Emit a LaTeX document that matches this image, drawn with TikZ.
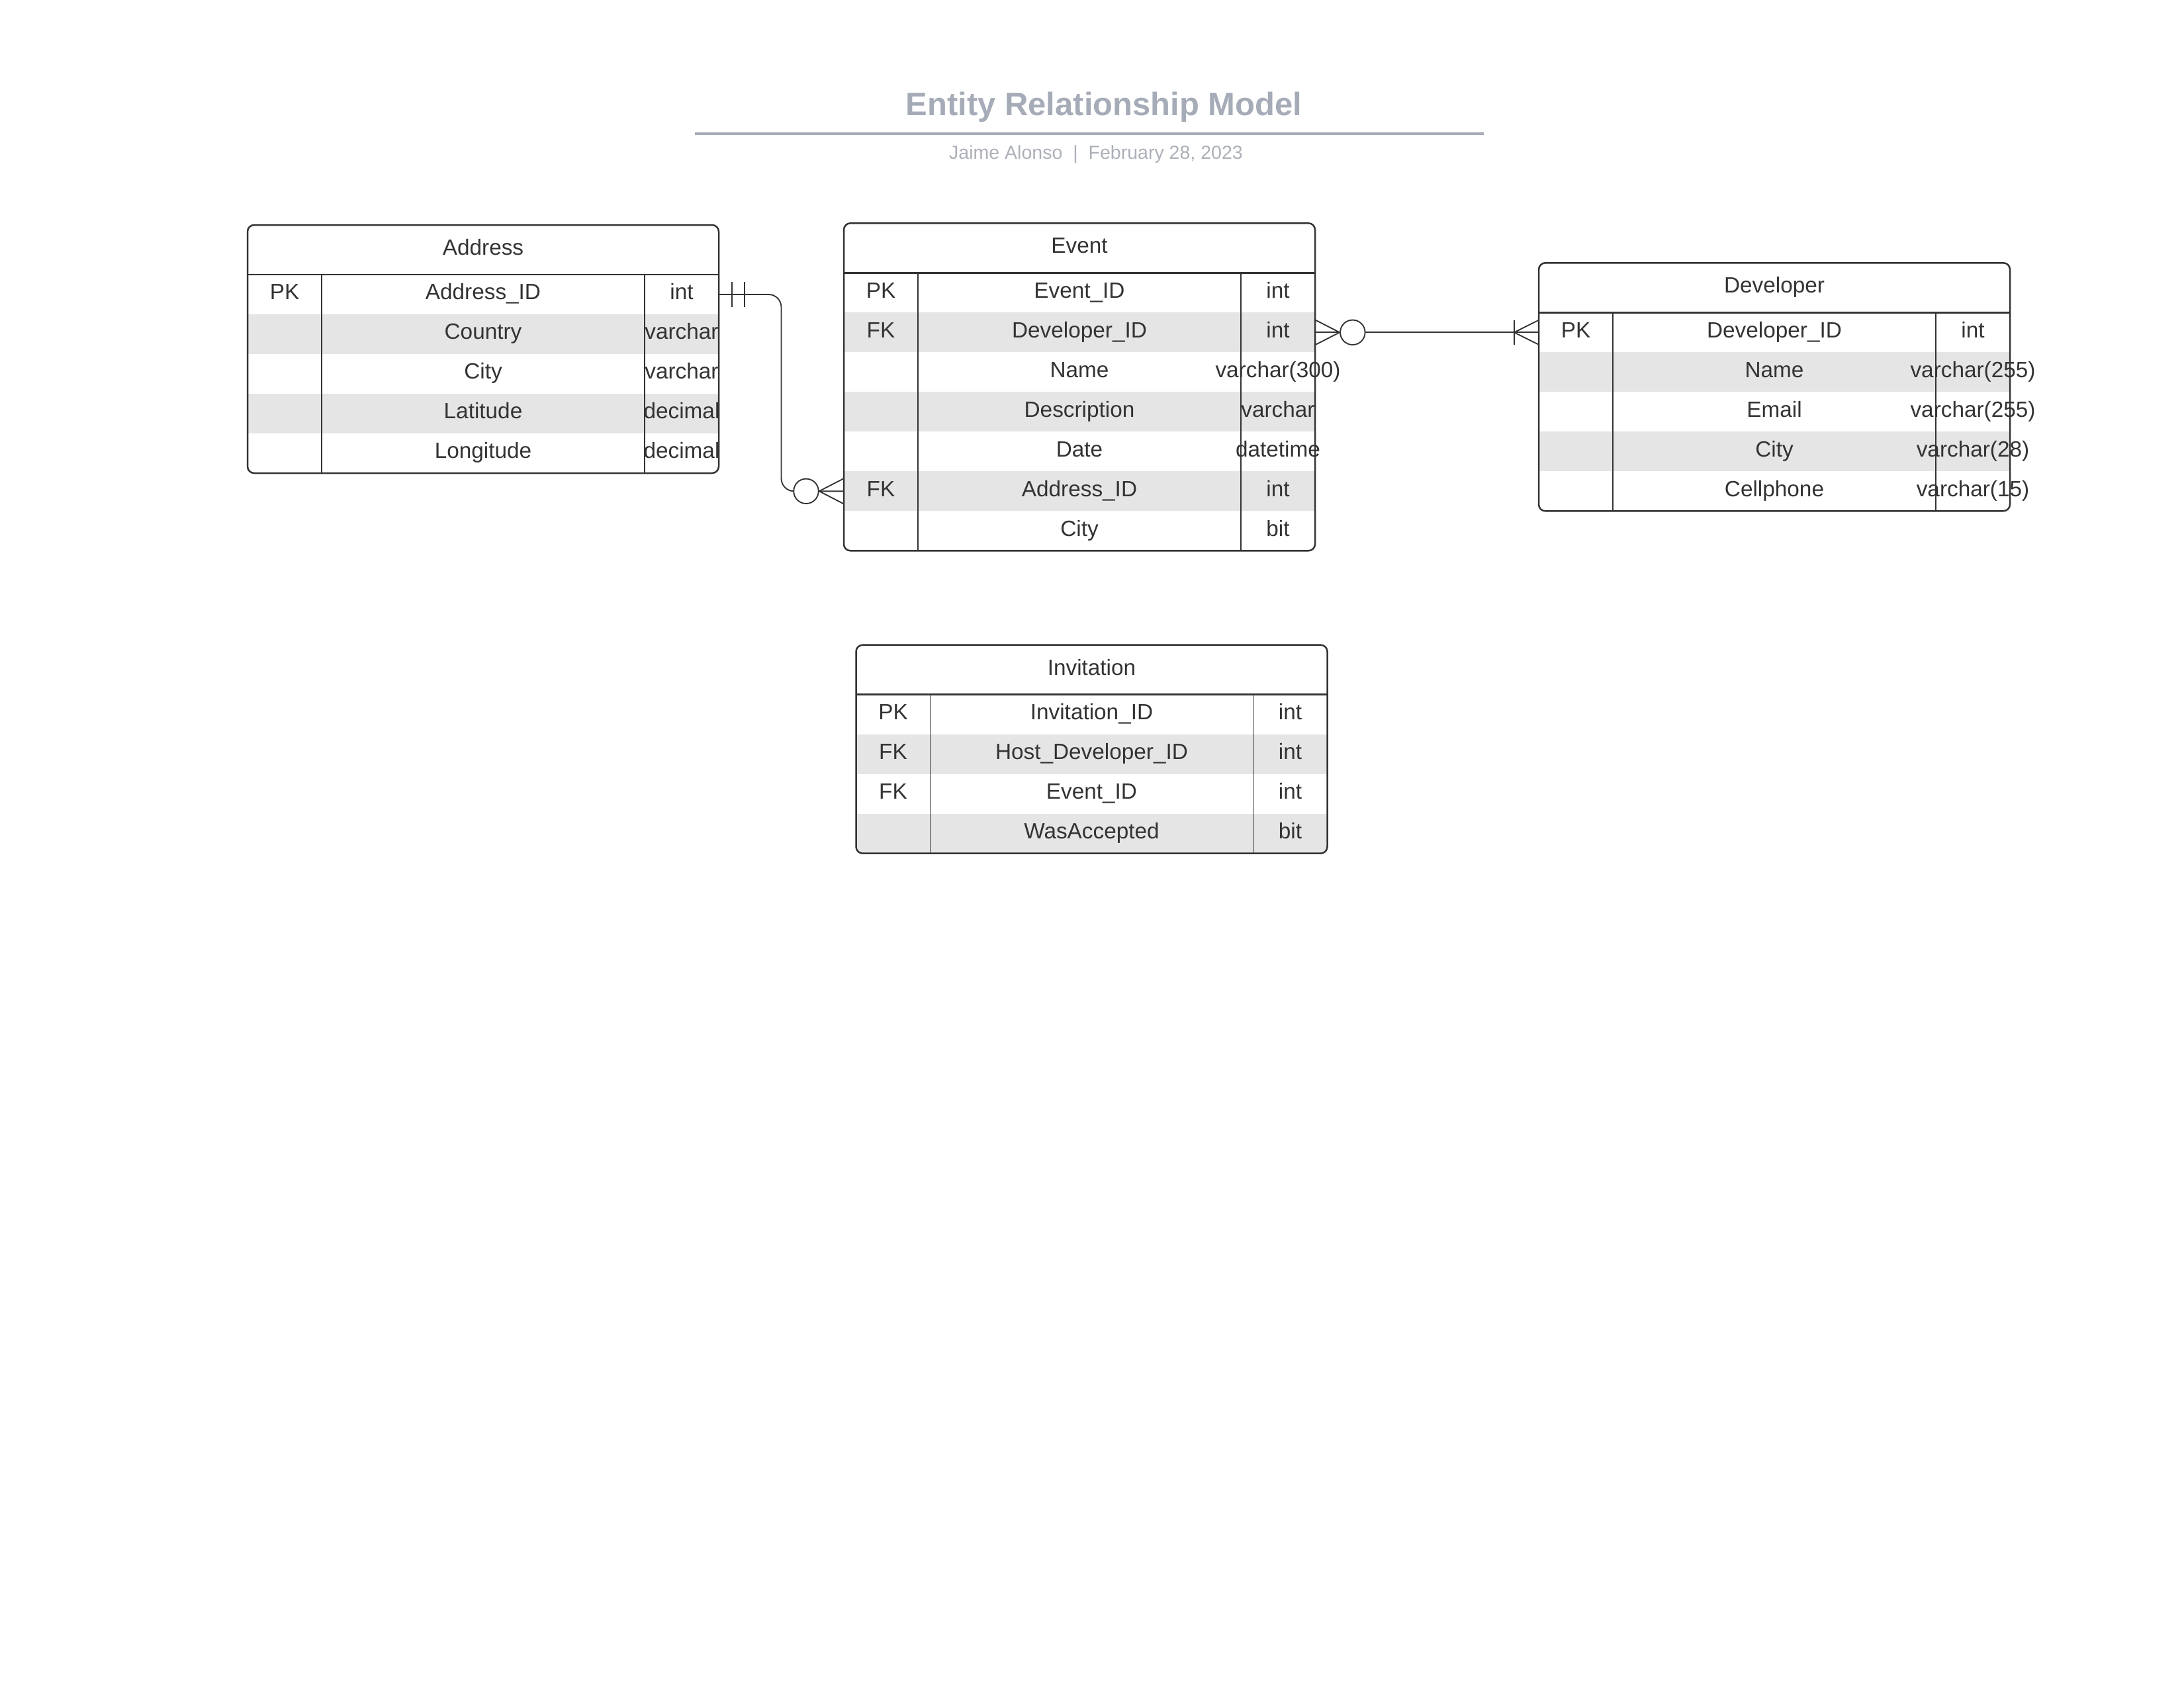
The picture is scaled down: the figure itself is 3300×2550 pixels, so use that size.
\documentclass[tikz,border=0pt]{standalone}
\usepackage{fontspec}
\setmainfont{Liberation Sans}
\usetikzlibrary{calc}
\definecolor{inkc}{HTML}{333333}
\definecolor{rowc}{HTML}{E5E5E5}
\definecolor{titlec}{RGB}{166,172,183}
\definecolor{subc}{RGB}{172,176,184}

\tikzset{
  tblborder/.style={draw=inkc, line width=0.6pt, rounded corners=2.4pt},
  hdrline/.style={draw=inkc, line width=0.6pt},
  divline/.style={draw=inkc, line width=0.4pt},
  cell/.style={font=\fontsize{8}{9.6}\selectfont, text=inkc, text height=5.73pt, text depth=0pt, inner sep=0pt},
  conn/.style={draw=inkc, line width=0.45pt},
  zerocirc/.style={circle, draw=inkc, line width=0.45pt, fill=white, minimum size=9pt, inner sep=0pt},
}

% #1 name, #2 left x, #3 top y, #4 title, #5 number of rows, #6 shaded rows, #7 rows
\newcommand{\ertbl}[7]{%
  \begin{scope}[shift={(#2,#3)}]
    \pgfmathsetmacro{\erbot}{75+60*#5}
    \begin{scope}
      \clip[rounded corners=2.4pt] (0,0) rectangle (712,\erbot);
      \foreach \s in {#6} { \fill[rowc] (0,{15+60*\s}) rectangle (712,{75+60*\s}); }
    \end{scope}
    \draw[divline] (112,75) -- (112,\erbot);
    \draw[divline] (600,75) -- (600,\erbot);
    \draw[hdrline] (0,75) -- (712,75);
    \draw[tblborder] (0,0) rectangle (712,\erbot);
    \node[cell] (#1-title) at (356,33.5) {#4};
    \foreach \ka/\fa/\ty [count=\i] in {#7} {
      \node[cell] (#1-k\i) at (56,{41+60*\i}) {\ka};
      \node[cell] (#1-f\i) at (356,{41+60*\i}) {\fa};
      \node[cell] (#1-t\i) at (656,{41+60*\i}) {\ty};
      \coordinate (#1-l\i) at (0,{45+60*\i});
      \coordinate (#1-r\i) at (712,{45+60*\i});
    }
  \end{scope}}

\begin{document}
\begin{tikzpicture}[x=0.24pt, y=-0.24pt]
  \useasboundingbox (0,0) rectangle (3300,2550);

  % title block
  \node[font=\bfseries\fontsize{11.75}{13}\selectfont, text=titlec, text height=8.4pt, text depth=0pt, inner sep=0pt] (title) at (1668,157.3) {Entity Relationship Model};
  \coordinate (rulea) at (1050,201.7);
  \coordinate (ruleb) at (2242,201.7);
  \draw[draw=titlec, line width=0.95pt] (rulea) -- (ruleb);
  \node[font=\fontsize{6.85}{8}\selectfont, text=subc, text height=4.9pt, text depth=0pt, inner sep=0pt] (subtitle) at (1656,230) {Jaime Alonso\ \ |\ \ February 28, 2023};

  % tables
  \ertbl{addr}{374}{340}{Address}{5}{2,4}{PK/Address\_ID/int, /Country/varchar, /City/varchar, /Latitude/decimal, /Longitude/decimal}
  \ertbl{ev}{1275}{337.3}{Event}{7}{2,4,6}{PK/Event\_ID/int, FK/Developer\_ID/int, /Name/varchar(300), /Description/varchar, /Date/datetime, FK/Address\_ID/int, /City/bit}
  \ertbl{dev}{2325}{397.3}{Developer}{5}{2,4}{PK/Developer\_ID/int, /Name/varchar(255), /Email/varchar(255), /City/varchar(28), /Cellphone/varchar(15)}
  \ertbl{inv}{1293.5}{974.7}{Invitation}{4}{2,4}{PK/Invitation\_ID/int, FK/Host\_Developer\_ID/int, FK/Event\_ID/int, /WasAccepted/bit}

  % connectors
  \draw[conn, rounded corners=4.6pt] (addr-r1) -- ++(94.5,0) |- (ev-l6);
  \draw[conn] (ev-r2) -- (dev-l1);

  % connector ends: Address (one and only one)
  \draw[conn] ($(addr-r1)+(19.7,-18.7)$) -- ++(0,37.4);
  \draw[conn] ($(addr-r1)+(39,-18.7)$) -- ++(0,37.4);
  % Event side of Address link (zero or many)
  \node[zerocirc] (c1) at (1218,742.3) {};
  \draw[conn] ($(ev-l6)+(0,-19.2)$) -- (c1.east) -- ($(ev-l6)+(0,19.2)$);

  % Event side of Developer link (zero or many)
  \node[zerocirc] (c2) at (2043.8,502.3) {};
  \draw[conn] ($(ev-r2)+(0,-19)$) -- (c2.west) -- ($(ev-r2)+(0,19)$);
  % Developer side (one or many)
  \draw[conn] ($(dev-l1)+(0,-18.5)$) -- ($(dev-l1)+(-37.3,0)$) -- ($(dev-l1)+(0,18.5)$);
  \draw[conn] ($(dev-l1)+(-37.3,-18.3)$) -- ++(0,36.6);
\end{tikzpicture}
\end{document}
